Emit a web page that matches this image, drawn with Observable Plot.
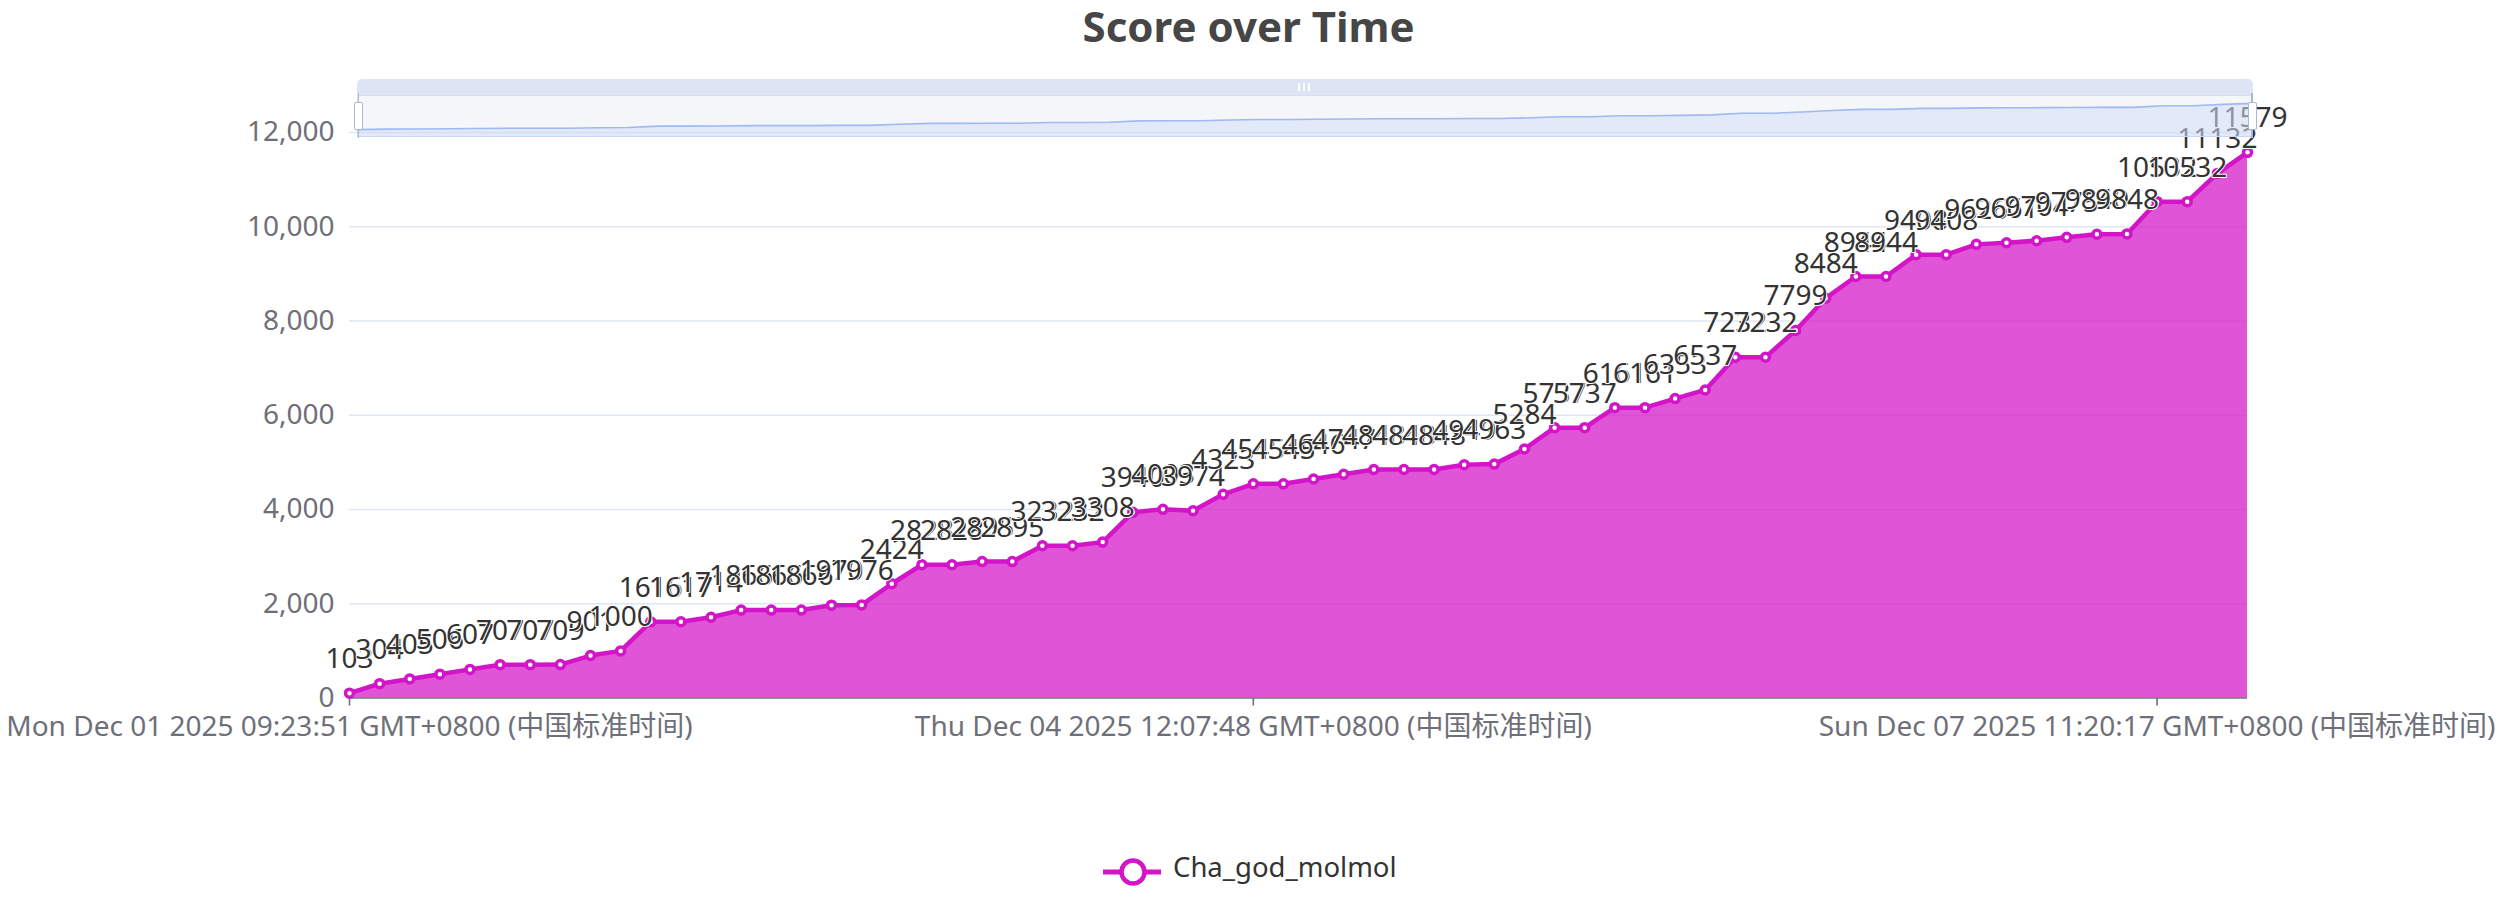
<!DOCTYPE html>
<html>
<head>
<meta charset="utf-8">
<script src="https://cdn.jsdelivr.net/npm/d3@7"></script>
<script src="https://cdn.jsdelivr.net/npm/@observablehq/plot@0.6"></script>
<style>
  html, body { margin: 0; padding: 0; background: #fff; }
  #root { position: relative; width: 2497px; height: 900px; overflow: hidden; font-family: "Noto Sans", "Noto Sans CJK SC", sans-serif; }
  #title { position: absolute; left: 50%; top: 3px; transform: translateX(-50%); white-space: nowrap; font-size: 42px; line-height: 46px; font-weight: bold; color: #464646; }
  #main { position: absolute; left: 0; top: 60px; }
  #sl-bg { position: absolute; left: 357px; top: 95px; width: 1896px; height: 42px; background: rgba(234,237,243,0.48); box-sizing: border-box; border: 1px solid #d6ddef; }
  #sl-shadow { position: absolute; left: 357px; top: 95px; }
  #sl-top { position: absolute; left: 357px; top: 79px; width: 1896px; height: 16px; background: #dde4f3; border-radius: 5px 5px 0 0; }
  .grip { position: absolute; top: 4px; width: 2px; height: 8px; background: #fff; }
  .hline { position: absolute; top: 93px; width: 1.6px; height: 45px; background: #acb8d1; }
  .handle { position: absolute; top: 101.5px; width: 9px; height: 28px; box-sizing: border-box; background: #fff; border: 1.6px solid #acb8d1; border-radius: 2px; }
  #legend-icon { position: absolute; left: 1103px; top: 857px; }
  #legend-text { position: absolute; left: 1173px; top: 852px; font-size: 27.5px; line-height: 30px; color: #333; white-space: nowrap; }
</style>
</head>
<body>
<div id="root">
  <div id="title">Score over Time</div>
</div>
<script>
// ---- data ----
const seriesName = "Cha_god_molmol";
const scores = [
  103, 304, 405, 506, 607, 707, 707, 709, 901, 1000,
  1616, 1617, 1714, 1866, 1866, 1866, 1970, 1976, 2424, 2828,
  2828, 2895, 2895, 3232, 3232, 3308, 3940, 4003, 3974, 4323,
  4545, 4545, 4646, 4747, 4848, 4848, 4848, 4949, 4963, 5284,
  5737, 5737, 6161, 6161, 6353, 6537, 7232, 7232, 7799, 8484,
  8944, 8944, 9408, 9408, 9626, 9661, 9704, 9775, 9840, 9848,
  10532, 10532, 11132, 11579
];
const tickIndex = [0, 30, 60];
const tickLabels = [
  "Mon Dec 01 2025 09:23:51 GMT+0800 (中国标准时间)",
  "Thu Dec 04 2025 12:07:48 GMT+0800 (中国标准时间)",
  "Sun Dec 07 2025 11:20:17 GMT+0800 (中国标准时间)"
];
const yTicks = [0, 2000, 4000, 6000, 8000, 10000, 12000];

const data = scores.map((v, i) => ({i, v}));
const color = "#d414c8";
const font = '"Noto Sans", "Noto Sans CJK SC", sans-serif';

const main = Plot.plot({
  width: 2497,
  height: 710,
  marginLeft: 349,
  marginRight: 250,
  marginTop: 72,
  marginBottom: 72.5,
  x: {domain: [0, scores.length - 1]},
  y: {domain: [0, 12000]},
  style: {background: "transparent", fontFamily: font, overflow: "visible", color: "#6e7079"},
  marks: [
    Plot.gridY(yTicks.slice(1), {stroke: "#e0e6f1", strokeOpacity: 1, strokeWidth: 1.6}),
    Plot.areaY(data, {x: "i", y: "v", fill: color, fillOpacity: 0.72}),
    Plot.ruleY([0], {stroke: "#6e7079", strokeWidth: 1.6}),
    Plot.lineY(data, {x: "i", y: "v", stroke: color, strokeWidth: 4.5, strokeLinejoin: "round"}),
    Plot.dot(data, {x: "i", y: "v", r: 4, stroke: color, strokeWidth: 3.5, fill: "white"}),
    Plot.text(data, {x: "i", y: "v", text: d => String(d.v), dy: -25, lineAnchor: "bottom",
      fontSize: 28, fill: "#333", stroke: "white", strokeWidth: 2}),
    Plot.axisY(yTicks, {tickSize: 0, tickPadding: 15, tickFormat: d3.format(","), fontSize: 28, label: null, fill: "#6e7079"}),
    Plot.axisX(tickIndex, {tickSize: 8, tickPadding: 10, tickFormat: i => tickLabels[tickIndex.indexOf(i)],
      fontSize: 28, label: null, fill: "#6e7079", stroke: "#6e7079", strokeWidth: 1.6})
  ]
});
main.id = "main";
const root = document.getElementById("root");
root.appendChild(main);

// ---- dataZoom slider (overlay) ----
const bg = document.createElement("div"); bg.id = "sl-bg"; root.appendChild(bg);
const vMin = d3.min(scores), vMax = d3.max(scores), off = (vMax - vMin) * 0.3;
const lo = vMin - off, hi = vMax + off;
const shadow = Plot.plot({
  width: 1896, height: 42, margin: 0,
  x: {domain: [0, scores.length - 1], axis: null},
  y: {domain: [lo, hi], axis: null},
  style: {background: "transparent", overflow: "visible"},
  marks: [
    Plot.areaY(data, {x: "i", y1: () => lo, y2: "v", fill: "#8fb0f7", fillOpacity: 0.18}),
    Plot.lineY(data, {x: "i", y: "v", stroke: "#9fbaf3", strokeWidth: 1.6})
  ]
});
shadow.id = "sl-shadow";
root.appendChild(shadow);
const topBar = document.createElement("div"); topBar.id = "sl-top";
[941, 946, 951].forEach(x => { const g = document.createElement("div"); g.className = "grip"; g.style.left = x + "px"; topBar.appendChild(g); });
root.appendChild(topBar);
[357.7, 2251.2].forEach(cx => {
  const l = document.createElement("div"); l.className = "hline"; l.style.left = (cx) + "px"; root.appendChild(l);
  const h = document.createElement("div"); h.className = "handle"; h.style.left = (cx - 3.7) + "px"; root.appendChild(h);
});

// ---- legend ----
const ns = "http://www.w3.org/2000/svg";
const icon = document.createElementNS(ns, "svg");
icon.setAttribute("id", "legend-icon"); icon.setAttribute("width", 58); icon.setAttribute("height", 30);
icon.innerHTML = `<line x1="0" y1="15" x2="58" y2="15" stroke="${color}" stroke-width="5"/><circle cx="30" cy="15" r="11.5" fill="white" stroke="${color}" stroke-width="4.5"/>`;
root.appendChild(icon);
const lt = document.createElement("div"); lt.id = "legend-text"; lt.textContent = seriesName; root.appendChild(lt);
</script>
</body>
</html>
